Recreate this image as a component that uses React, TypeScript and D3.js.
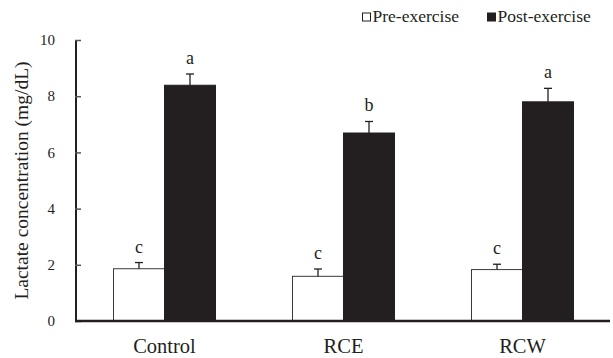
import * as d3 from "d3";
import { useEffect, useRef } from "react";

// chart data
const groups = ["Control", "RCE", "RCW"];
const series = ["Pre-exercise", "Post-exercise"];
const preValues = [1.86, 1.59, 1.83];
const preErrors = [0.22, 0.26, 0.19];
const postValues = [8.39, 6.69, 7.8];
const postErrors = [0.4, 0.41, 0.48];
const preLetters = ["c", "c", "c"];
const postLetters = ["a", "b", "a"];
const yTicks = [0, 2, 4, 6, 8, 10];

export default function App() {
  const svgRef = useRef<SVGSVGElement>(null);

  const width = 613;
  const height = 358;
  const margin = { top: 40, right: 1, bottom: 37, left: 75 };
  const font = "'Liberation Serif', 'Times New Roman', serif";

  useEffect(() => {
    const svg = d3.select(svgRef.current);
    svg.selectAll("*").remove();

    const xScale = d3
      .scaleBand()
      .domain(groups)
      .range([margin.left, width - margin.right])
      .padding(0);

    const subScale = d3
      .scaleBand()
      .domain(series)
      .range([0, xScale.bandwidth()])
      .paddingInner(0)
      .paddingOuter(0.755);

    const yScale = d3
      .scaleLinear()
      .domain([0, 10])
      .range([height - margin.bottom, margin.top]);

    const rows = groups.map((g, i) => [
      { group: g, key: series[0], value: preValues[i], err: preErrors[i], letter: preLetters[i] },
      { group: g, key: series[1], value: postValues[i], err: postErrors[i], letter: postLetters[i] },
    ]).flat();

    // bars
    svg
      .selectAll("rect.bar")
      .data(rows)
      .enter()
      .append("rect")
      .attr("class", "bar")
      .attr("x", (d) => xScale(d.group)! + subScale(d.key)!)
      .attr("y", (d) => yScale(d.value))
      .attr("width", subScale.bandwidth())
      .attr("height", (d) => yScale(0) - yScale(d.value))
      .attr("fill", (d) => (d.key === series[0] ? "#ffffff" : "#231f20"))
      .attr("stroke", (d) => (d.key === series[0] ? "#3a3a3a" : "#231f20"))
      .attr("stroke-width", 1);

    // error bars
    const errs = svg.append("g").attr("stroke", "#231f20").attr("stroke-width", 1.3);
    rows.forEach((d) => {
      const cx = xScale(d.group)! + subScale(d.key)! + subScale.bandwidth() / 2;
      errs
        .append("line")
        .attr("x1", cx)
        .attr("x2", cx)
        .attr("y1", yScale(d.value))
        .attr("y2", yScale(d.value + d.err));
      errs
        .append("line")
        .attr("x1", cx - 4)
        .attr("x2", cx + 4)
        .attr("y1", yScale(d.value + d.err))
        .attr("y2", yScale(d.value + d.err));
    });

    // significance letters
    svg
      .selectAll("text.letter")
      .data(rows)
      .enter()
      .append("text")
      .attr("class", "letter")
      .attr("x", (d) => xScale(d.group)! + subScale(d.key)! + subScale.bandwidth() / 2)
      .attr("y", (d) => yScale(d.value + d.err) - 10)
      .attr("text-anchor", "middle")
      .attr("font-family", font)
      .attr("font-size", 18)
      .attr("fill", "#231f20")
      .text((d) => d.letter);

    // y axis
    const yAxis = d3
      .axisRight(yScale)
      .tickValues(yTicks)
      .tickSize(6)
      .tickFormat(() => "");
    const yg = svg
      .append("g")
      .attr("transform", `translate(${margin.left}, 0)`)
      .call(yAxis);
    yg.select(".domain").attr("stroke", "#231f20").attr("stroke-width", 2).attr("d", `M1,${yScale(10)}V${yScale(0)}`);
    yg.selectAll(".tick line").attr("stroke", "#555").attr("stroke-width", 1.5);

    svg
      .append("g")
      .selectAll("text")
      .data(yTicks)
      .enter()
      .append("text")
      .attr("x", 55)
      .attr("y", (d) => yScale(d))
      .attr("dy", "0.35em")
      .attr("text-anchor", "end")
      .attr("font-family", font)
      .attr("font-size", 15)
      .attr("fill", "#231f20")
      .text((d) => d);

    // x axis
    svg
      .append("line")
      .attr("x1", margin.left)
      .attr("x2", width - 3)
      .attr("y1", yScale(0))
      .attr("y2", yScale(0))
      .attr("stroke", "#231f20")
      .attr("stroke-width", 2.5);

    svg
      .append("g")
      .selectAll("text")
      .data(groups)
      .enter()
      .append("text")
      .attr("x", (d) => xScale(d)! + xScale.bandwidth() / 2)
      .attr("y", 353)
      .attr("text-anchor", "middle")
      .attr("font-family", font)
      .attr("font-size", 20.5)
      .attr("fill", "#231f20")
      .text((d) => d);

    // y label
    svg
      .append("text")
      .attr("transform", `translate(28, ${(yScale(0) + yScale(10)) / 2}) rotate(-90)`)
      .attr("text-anchor", "middle")
      .attr("font-family", font)
      .attr("font-size", 19.5)
      .attr("fill", "#231f20")
      .text("Lactate concentration (mg/dL)");

    // legend
    const legendX = [362.5, 487.5];
    const lg = svg.append("g");
    series.forEach((s, i) => {
      lg.append("rect")
        .attr("x", legendX[i])
        .attr("y", 13)
        .attr("width", 8)
        .attr("height", 8)
        .attr("fill", i === 0 ? "#ffffff" : "#231f20")
        .attr("stroke", "#231f20")
        .attr("stroke-width", 1);
      lg.append("text")
        .attr("x", legendX[i] + 10)
        .attr("y", 21.5)
        .attr("font-family", font)
        .attr("font-size", 17.5)
        .attr("fill", "#231f20")
        .text(s);
    });
  }, []);

  return (
    <svg
      ref={svgRef}
      width={width}
      height={height}
      style={{ position: "absolute", left: 0, top: 0, background: "#fff" }}
    />
  );
}
